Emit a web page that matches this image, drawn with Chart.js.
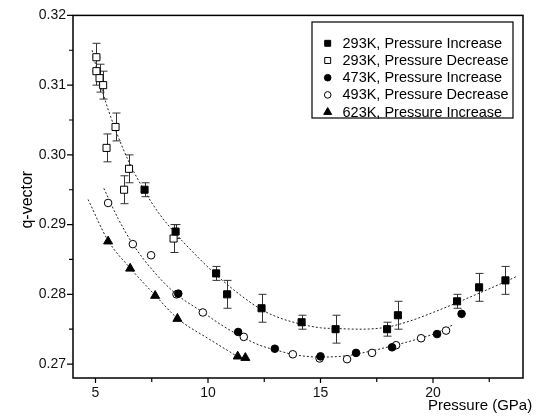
<!DOCTYPE html>
<html><head><meta charset="utf-8">
<script src="https://cdn.jsdelivr.net/npm/chart.js@4.4.1/dist/chart.umd.min.js"></script>
<style>html,body{margin:0;padding:0;background:#fff;}canvas{display:block;}</style>
</head><body>
<canvas id="c" width="540" height="417"></canvas>
<script>
// ---------- data ----------
const inc293X = [7.18, 8.56, 10.36, 10.85, 12.38, 14.16, 15.67, 17.96, 18.44, 21.07, 22.05, 23.22];
const inc293Y = [0.2950, 0.2890, 0.2830, 0.2800, 0.2780, 0.2760, 0.2750, 0.2750, 0.2770, 0.2790, 0.2810, 0.2820];
const inc293Err = [0.001, 0.001, 0.001, 0.002, 0.002, 0.001, 0.002, 0.001, 0.002, 0.001, 0.002, 0.002];

const dec293X = [5.04, 5.04, 5.18, 5.34, 5.89, 5.49, 6.49, 6.27, 8.47];
const dec293Y = [0.3140, 0.3120, 0.3110, 0.3100, 0.3040, 0.3010, 0.2980, 0.2950, 0.2880];
const dec293Err = [0.002, 0.002, 0.002, 0.002, 0.002, 0.002, 0.002, 0.002, 0.002];

const inc473X = [8.68, 11.34, 12.97, 15.0, 16.58, 18.18, 20.18, 21.27];
const inc473Y = [0.2801, 0.2746, 0.2722, 0.2711, 0.2716, 0.2724, 0.2743, 0.2772];

const dec493X = [5.56, 6.66, 7.47, 8.60, 9.77, 11.59, 13.77, 14.96, 16.18, 17.29, 18.36, 19.47, 20.58];
const dec493Y = [0.2931, 0.2872, 0.2856, 0.2800, 0.2774, 0.2739, 0.2714, 0.2708, 0.2707, 0.2716, 0.2727, 0.2737, 0.2748];

const inc623X = [5.56, 6.54, 7.65, 8.64, 11.32, 11.66];
const inc623Y = [0.2876, 0.2837, 0.2798, 0.2765, 0.2711, 0.2709];

const fit293X = [4.85, 5.3, 5.9, 6.5, 7.2, 7.8, 8.56, 9.5, 10.36, 11.4, 12.38, 13.2, 14.16, 15.0, 15.67, 16.8, 17.96, 19.0, 20.0, 21.07, 22.0, 23.0, 23.74];
const fit293Y = [0.3150, 0.3092, 0.3035, 0.2989, 0.2947, 0.2917, 0.2887, 0.2855, 0.2828, 0.2800, 0.2778, 0.2766, 0.2757, 0.2752, 0.2751, 0.2750, 0.2753, 0.2762, 0.2774, 0.2788, 0.2801, 0.2815, 0.2826];

const fit493X = [5.37, 6.0, 6.66, 7.5, 8.56, 9.74, 10.6, 11.51, 12.3, 13.15, 13.74, 14.96, 16.18, 17.29, 18.18, 19.44, 20.18, 20.88];
const fit493Y = [0.2952, 0.2909, 0.2872, 0.2836, 0.2801, 0.2775, 0.2756, 0.2739, 0.2727, 0.2719, 0.2714, 0.2710, 0.2712, 0.2719, 0.2726, 0.2737, 0.2745, 0.2756];

const fit623X = [4.67, 5.56, 6.56, 7.67, 8.66, 10.04, 11.25];
const fit623Y = [0.2936, 0.2877, 0.2837, 0.2798, 0.2765, 0.2736, 0.2712];

const xMajorTicks = [5, 10, 15, 20];
const xMinorTicks = [7.5, 12.5, 17.5, 22.5];
const yMajorTicks = [0.27, 0.28, 0.29, 0.30, 0.31, 0.32];
const yMinorTicks = [0.275, 0.285, 0.295, 0.305, 0.315];

const seriesLabels = ['293K, Pressure Increase', '293K, Pressure Decrease', '473K, Pressure Increase', '493K, Pressure Decrease', '623K, Pressure Increase'];

// ---------- helpers ----------
const pts = (xs, ys) => xs.map((x, i) => ({x: x, y: ys[i]}));
const FONT = "'Liberation Sans', Arial, Helvetica, sans-serif";
const INK = '#000';

function marker(label, xs, ys, style, filled, r, errs) {
  return {
    label: label, data: pts(xs, ys), showLine: false, isMarker: true, errors: errs || null, filled: filled,
    pointStyle: style, pointRadius: r, pointHoverRadius: r,
    pointBackgroundColor: filled ? INK : '#fff', pointBorderColor: INK, pointBorderWidth: 1
  };
}
function fit(xs, ys) {
  return {
    label: 'fit', data: pts(xs, ys), showLine: true, pointRadius: 0, isFit: true,
    borderColor: '#222', borderWidth: 1, borderDash: [2, 2], cubicInterpolationMode: 'monotone', fill: false
  };
}

const datasets = [
  marker(seriesLabels[0], inc293X, inc293Y, 'rect', true, 5, inc293Err),
  marker(seriesLabels[1], dec293X, dec293Y, 'rect', false, 5, dec293Err),
  marker(seriesLabels[2], inc473X, inc473Y, 'circle', true, 3.8),
  marker(seriesLabels[3], dec493X, dec493Y, 'circle', false, 3.8),
  marker(seriesLabels[4], inc623X, inc623Y, 'triangle', true, 5.2),
  fit(fit293X, fit293Y),
  fit(fit493X, fit493Y),
  fit(fit623X, fit623Y)
];

function drawShape(ctx, style, r, x, y, filled) {
  ctx.save();
  ctx.fillStyle = filled ? INK : '#fff';
  ctx.strokeStyle = INK; ctx.lineWidth = 1;
  ctx.beginPath();
  if (style === 'rect') {
    const s = r * Math.SQRT1_2;
    ctx.rect(x - s, y - s, 2 * s, 2 * s);
  } else if (style === 'circle') {
    ctx.arc(x, y, r, 0, Math.PI * 2);
  } else {
    ctx.moveTo(x, y - r);
    ctx.lineTo(x + r * Math.sin(Math.PI / 3), y + r * 0.5);
    ctx.lineTo(x - r * Math.sin(Math.PI / 3), y + r * 0.5);
    ctx.closePath();
  }
  ctx.fill(); ctx.stroke();
  ctx.restore();
}

const errorBars = {
  id: 'errorBars',
  beforeDatasetsDraw(chart) {
    const ctx = chart.ctx, xs = chart.scales.x, ys = chart.scales.y;
    chart.data.datasets.forEach(ds => {
      if (!ds.errors) return;
      ctx.save(); ctx.strokeStyle = '#333'; ctx.lineWidth = 1;
      ds.data.forEach((p, j) => {
        const e = ds.errors[j];
        const x = Math.round(xs.getPixelForValue(p.x)) + 0.5;
        const y1 = ys.getPixelForValue(p.y - e), y2 = ys.getPixelForValue(p.y + e);
        ctx.beginPath();
        ctx.moveTo(x, y1); ctx.lineTo(x, y2);
        ctx.moveTo(x - 4, y1); ctx.lineTo(x + 4, y1);
        ctx.moveTo(x - 4, y2); ctx.lineTo(x + 4, y2);
        ctx.stroke();
      });
      ctx.restore();
    });
  }
};

const frame = {
  id: 'frame',
  afterDraw(chart) {
    const ctx = chart.ctx, a = chart.chartArea, xs = chart.scales.x, ys = chart.scales.y;
    ctx.save();
    ctx.strokeStyle = INK; ctx.lineWidth = 1.5;
    ctx.strokeRect(a.left, a.top, a.right - a.left, a.bottom - a.top);
    ctx.lineWidth = 1.2;
    ctx.beginPath();
    yMajorTicks.forEach(v => { const y = ys.getPixelForValue(v); ctx.moveTo(a.left - 6, y); ctx.lineTo(a.left, y); });
    yMinorTicks.forEach(v => { const y = ys.getPixelForValue(v); ctx.moveTo(a.left - 4, y); ctx.lineTo(a.left, y); });
    xMajorTicks.forEach(v => { const x = xs.getPixelForValue(v); ctx.moveTo(x, a.bottom); ctx.lineTo(x, a.bottom + 5); });
    xMinorTicks.forEach(v => { const x = xs.getPixelForValue(v); ctx.moveTo(x, a.bottom); ctx.lineTo(x, a.bottom + 4); });
    ctx.stroke();

    // axis titles
    ctx.fillStyle = INK;
    ctx.font = '15px ' + FONT;
    ctx.textAlign = 'left'; ctx.textBaseline = 'middle';
    ctx.fillText('Pressure (GPa)', 428, 406);
    ctx.save();
    ctx.translate(28, (a.top + a.bottom) / 2 + 3);
    ctx.rotate(-Math.PI / 2);
    ctx.font = '16px ' + FONT;
    ctx.textAlign = 'center';
    ctx.fillText('q-vector', 0, 0);
    ctx.restore();

    // legend
    const L = 312, T = 22, W = 201, H = 96;
    ctx.lineWidth = 1.2; ctx.strokeStyle = INK;
    ctx.strokeRect(L, T, W, H);
    const rows = [43.3, 60.5, 77.7, 94.9, 112.1];
    const markers = chart.data.datasets.filter(d => d.isMarker);
    ctx.font = '14.5px ' + FONT; ctx.textBaseline = 'middle'; ctx.textAlign = 'left';
    markers.forEach((d, i) => {
      const r = d.pointStyle === 'rect' ? 4.2 : (d.pointStyle === 'circle' ? 3.3 : 4.6);
      drawShape(ctx, d.pointStyle, r, 327.7, rows[i], d.filled);
      ctx.fillStyle = INK;
      ctx.fillText(d.label, 342.5, rows[i] + 0.5);
    });
    ctx.restore();
  }
};

new Chart(document.getElementById('c'), {
  type: 'scatter',
  data: {datasets: datasets},
  options: {
    responsive: false, animation: false, devicePixelRatio: 1,
    layout: {padding: {top: 15, right: 17, left: 0, bottom: 0}},
    plugins: {legend: {display: false}, tooltip: {enabled: false}},
    scales: {
      x: {
        type: 'linear', min: 4, max: 24,
        grid: {display: false, drawTicks: false}, border: {display: false},
        afterBuildTicks: s => { s.ticks = xMajorTicks.map(v => ({value: v})); },
        afterFit: s => { s.height = 39; },
        ticks: {color: '#111', font: {family: FONT, size: 14}, padding: 7, maxRotation: 0, autoSkip: false,
                callback: v => String(v)}
      },
      y: {
        type: 'linear', min: 0.268, max: 0.32,
        grid: {display: false, drawTicks: false}, border: {display: false},
        afterBuildTicks: s => { s.ticks = yMajorTicks.map(v => ({value: v})); },
        afterFit: s => { s.width = 73; },
        ticks: {color: '#111', font: {family: FONT, size: 14}, padding: 7, autoSkip: false,
                callback: v => Number(v).toFixed(2)}
      }
    }
  },
  plugins: [errorBars, frame]
});
</script>
</body></html>
